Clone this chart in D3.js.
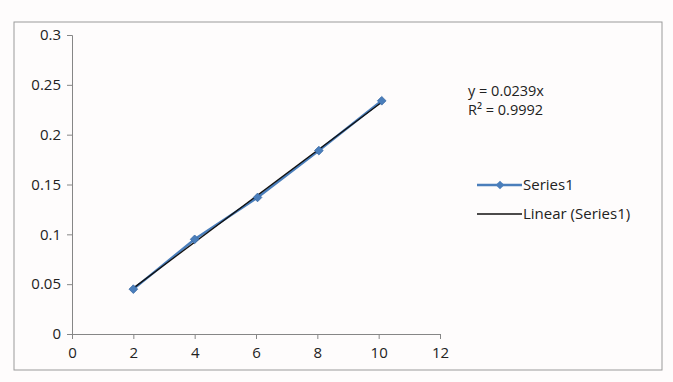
<!DOCTYPE html>
<html>
<head>
<meta charset="utf-8">
<script src="https://cdn.jsdelivr.net/npm/d3@7"></script>
<style>
  html, body { margin: 0; padding: 0; background: #fff; }
  text { font-family: "Open Sans", "Liberation Sans", sans-serif; fill: #222; }
</style>
</head>
<body>
<div id="chart"></div>
<script>
// values
const xValues = [2, 4, 6.05, 8.05, 10.1];
const yValues = [0.045, 0.095, 0.137, 0.184, 0.234];
const xTicks = [0, 2, 4, 6, 8, 10, 12];
const yTicks = [0, 0.05, 0.1, 0.15, 0.2, 0.25, 0.3];
const equationLines = ["y = 0.0239x", "R² = 0.9992"];
const legendLabels = ["Series1", "Linear (Series1)"];

const width = 673, height = 382;
const blue = "#4a7ebb";

const svg = d3.select("#chart").append("svg")
    .attr("width", width)
    .attr("height", height);

svg.append("rect")
    .attr("width", width).attr("height", height)
    .attr("fill", "#fefcfc");

// chart frame
svg.append("rect")
    .attr("x", 14).attr("y", 22)
    .attr("width", 648).attr("height", 348)
    .attr("fill", "none")
    .attr("stroke", "#9a9a9a")
    .attr("stroke-width", 1);

var x = d3.scaleLinear().domain([0, 12]).range([72, 440]);
var y = d3.scaleLinear().domain([0, 0.3]).range([334, 35]);

var fmt = d => d === 0 ? "0" : String(+d.toFixed(2));

var xAxis = svg.append("g")
    .attr("transform", "translate(0," + y(0) + ")")
    .call(d3.axisBottom(x).tickValues(xTicks).tickSize(5).tickPadding(8).tickFormat(fmt));

var yAxis = svg.append("g")
    .attr("transform", "translate(" + x(0) + ",0)")
    .call(d3.axisLeft(y).tickValues(yTicks).tickSize(5).tickPadding(6).tickFormat(fmt));

[xAxis, yAxis].forEach(function (g) {
    g.select(".domain").attr("stroke", "#868686");
    g.selectAll(".tick line").attr("stroke", "#868686");
    g.selectAll("text").style("font-size", "15px").attr("fill", "#222");
});

const points = xValues.map((v, i) => ({x: v, y: yValues[i]}));

// series line
svg.append("path")
    .datum(points)
    .attr("fill", "none")
    .attr("stroke", blue)
    .attr("stroke-width", 2.5)
    .attr("d", d3.line().x(d => x(d.x)).y(d => y(d.y)));

// least-squares trendline through origin, fitted to the plotted points
var fit = d3.sum(points, d => d.x * d.y) / d3.sum(points, d => d.x * d.x);
var xMin = d3.min(xValues), xMax = d3.max(xValues);
svg.append("line")
    .attr("x1", x(xMin)).attr("y1", y(fit * xMin))
    .attr("x2", x(xMax)).attr("y2", y(fit * xMax))
    .attr("stroke", "#111")
    .attr("stroke-width", 1.3);

var diamond = d3.symbol().type(d3.symbolDiamond2).size(48);

svg.selectAll("path.marker")
    .data(points)
    .enter()
    .append("path")
    .attr("class", "marker")
    .attr("transform", d => "translate(" + x(d.x) + "," + y(d.y) + ")")
    .attr("d", diamond)
    .attr("fill", blue)
    .attr("stroke", "#3a6aa5")
    .attr("stroke-width", 0.8);

// trendline equation
svg.selectAll("text.eq")
    .data(equationLines)
    .enter()
    .append("text")
    .attr("class", "eq")
    .attr("x", 468)
    .attr("y", (d, i) => 96 + i * 19)
    .style("font-size", "14.5px")
    .text(d => d);

// legend
var legend = svg.append("g");
legend.append("line")
    .attr("x1", 477).attr("x2", 522).attr("y1", 185).attr("y2", 185)
    .attr("stroke", blue).attr("stroke-width", 2.5);
legend.append("path")
    .attr("transform", "translate(500,185)")
    .attr("d", diamond)
    .attr("fill", blue);
legend.append("text")
    .attr("x", 523).attr("y", 190)
    .style("font-size", "15px")
    .text(legendLabels[0]);
legend.append("line")
    .attr("x1", 477).attr("x2", 522).attr("y1", 214).attr("y2", 214)
    .attr("stroke", "#111").attr("stroke-width", 1.3);
legend.append("text")
    .attr("x", 523).attr("y", 219)
    .style("font-size", "15px")
    .text(legendLabels[1]);
</script>
</body>
</html>
